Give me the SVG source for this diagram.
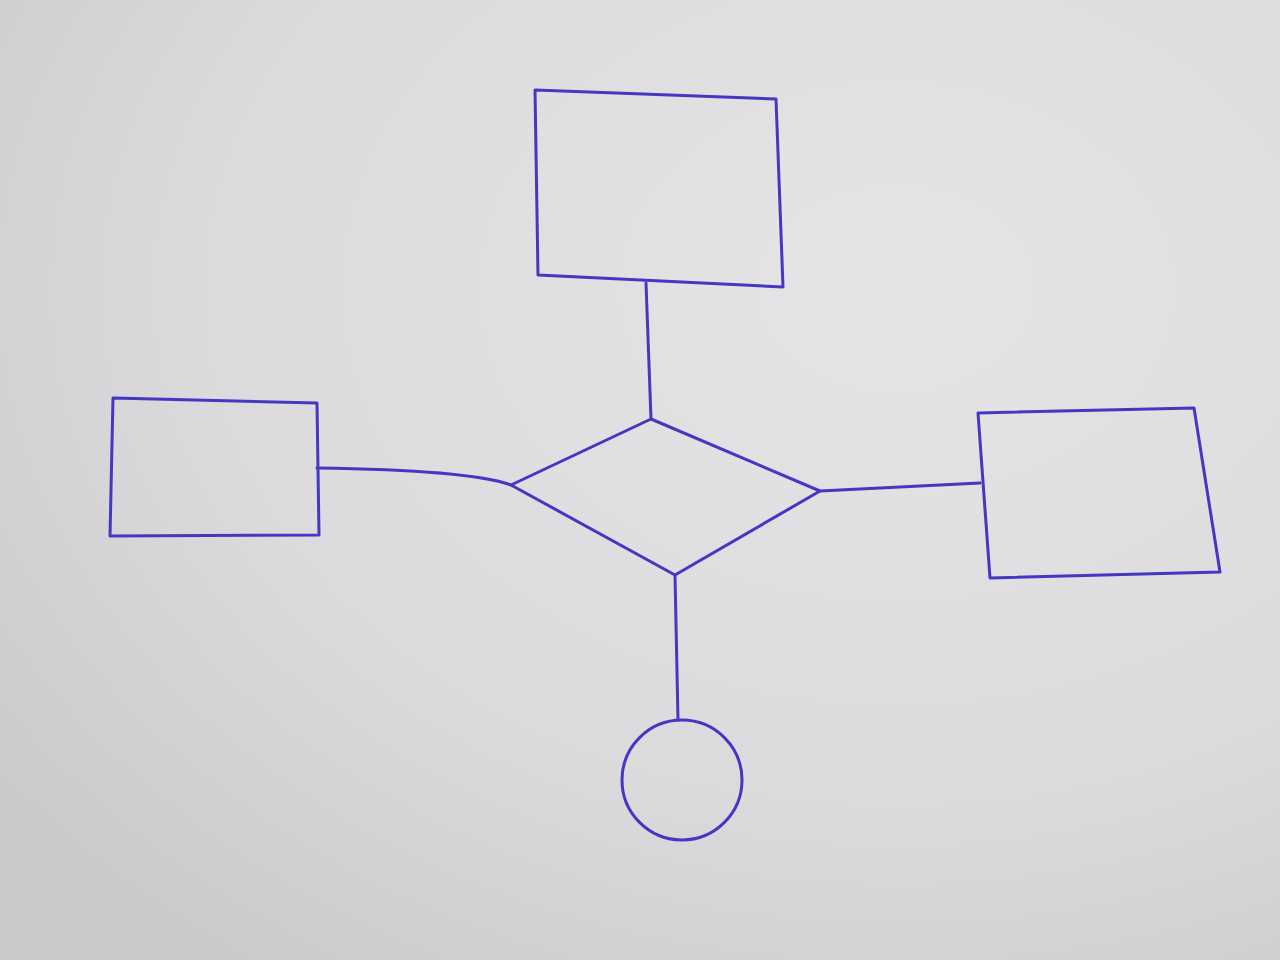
<svg xmlns="http://www.w3.org/2000/svg" width="1280" height="960" viewBox="0 0 1280 960">
<defs>
<radialGradient id="paper" cx="0.7" cy="0.3" r="0.9">
<stop offset="0" stop-color="#e6e4e6"/>
<stop offset="0.6" stop-color="#dcdadc"/>
<stop offset="1" stop-color="#cac8cb"/>
</radialGradient>
<style>
.ink{fill:none;stroke:#4636c4;stroke-width:3;stroke-linejoin:round;stroke-linecap:round}
</style>
</defs>
<rect width="1280" height="960" fill="url(#paper)"/>
<g id="connectors" class="ink">
<path d="M646,283 L651,419"/>
<path d="M317,468 Q470,470 511,485"/>
<path d="M820,491 L980,483"/>
<path d="M675,575 L678,720"/>
</g>
<g id="top-entity"><polygon class="ink" points="535,90 776,99 783,287 538,275"/></g>
<g id="left-entity"><polygon class="ink" points="113,398 317,403 319,535 110,536"/></g>
<g id="right-entity"><polygon class="ink" points="978,413 1194,408 1220,572 990,578"/></g>
<g id="relationship"><polygon class="ink" points="651,419 820,491 675,575 511,485"/></g>
<g id="attribute"><ellipse class="ink" cx="682" cy="780" rx="60" ry="60"/></g>
</svg>
